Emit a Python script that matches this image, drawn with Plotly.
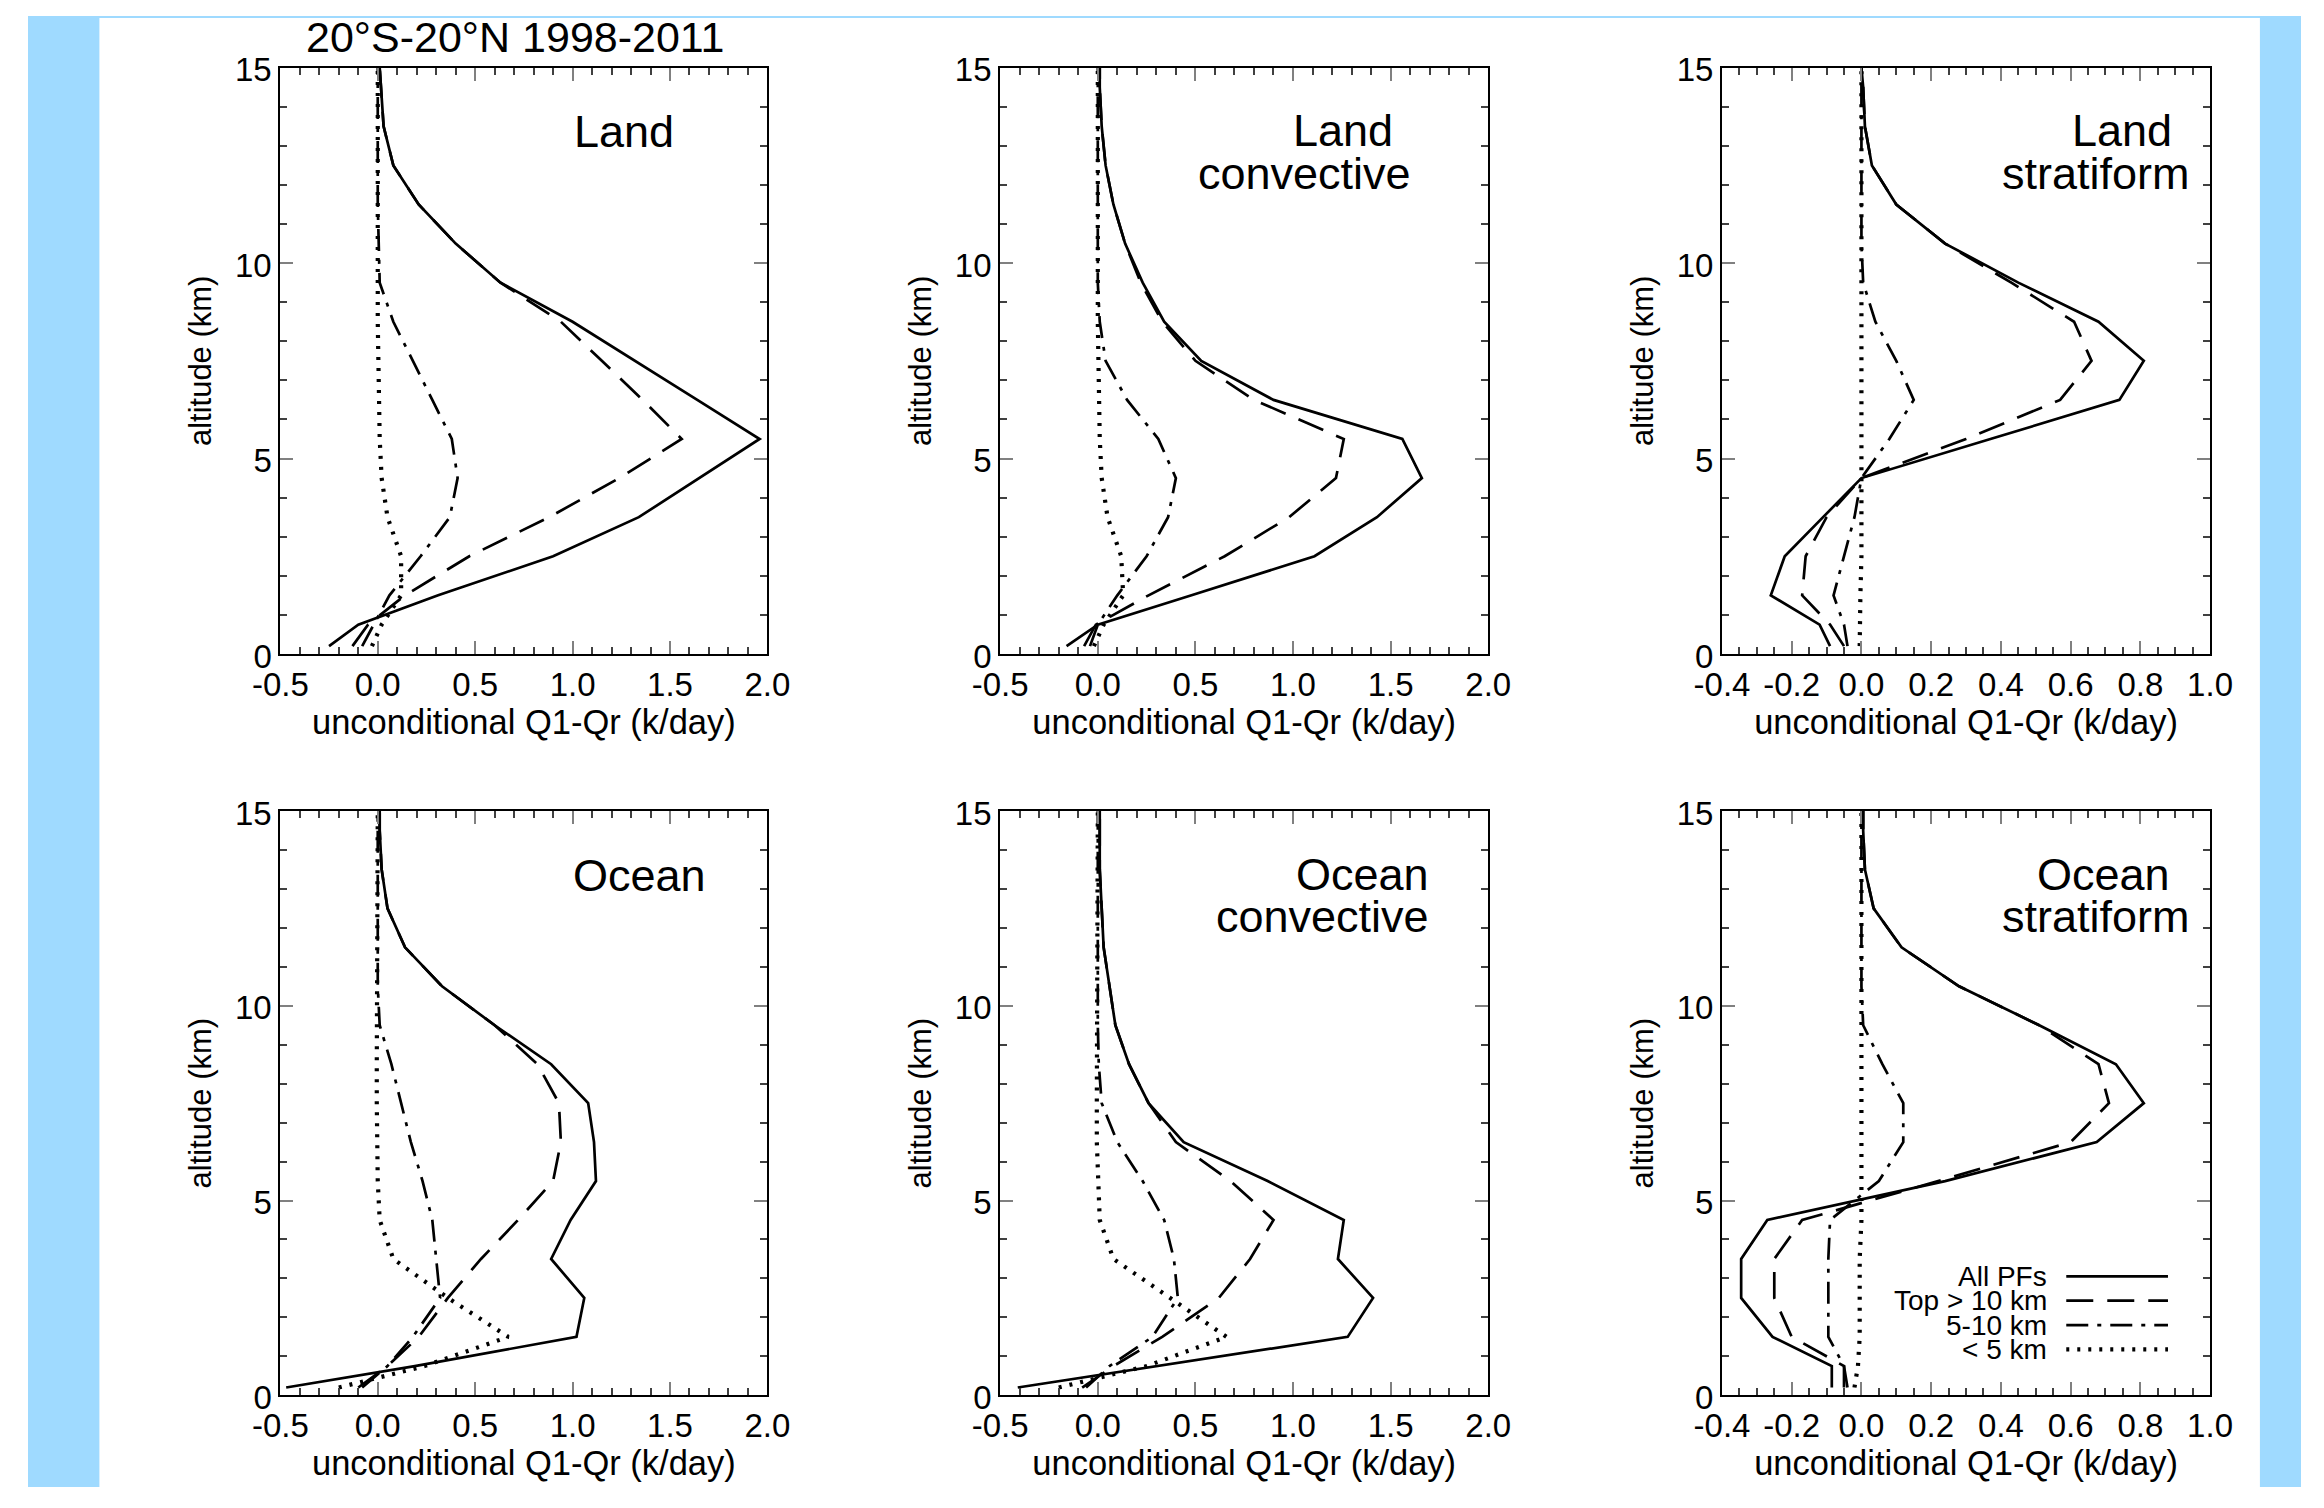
import plotly.graph_objects as go

# ---------------- data ----------------
altitude_km = [0.2, 0.75, 1.5, 2.5, 3.5, 4.5, 5.5, 6.5, 7.5, 8.5, 9.5, 10.5, 11.5, 12.5, 13.5, 14.5, 15.0]

series_names = ["All PFs", "Top > 10 km", "5-10 km", "< 5 km"]

land_all   = [-0.25, -0.10, 0.31, 0.90, 1.34, 1.65, 1.96, 1.64, 1.32, 1.00, 0.63, 0.40, 0.21, 0.08, 0.03, 0.015, 0.01]
land_top10 = [-0.13, -0.05, 0.14, 0.47, 0.88, 1.24, 1.56, 1.36, 1.15, 0.94, 0.63, 0.40, 0.21, 0.08, 0.03, 0.015, 0.01]
land_mid   = [-0.08, -0.02, 0.06, 0.22, 0.37, 0.41, 0.38, 0.28, 0.18, 0.08, 0.01, 0.005, 0, 0, 0, 0, 0]
land_low   = [-0.03, 0.02, 0.12, 0.12, 0.05, 0.02, 0.01, 0.005, 0, 0, 0, 0, 0, 0, 0, 0, 0]

landc_all   = [-0.16, 0.0, 0.48, 1.11, 1.43, 1.66, 1.56, 0.90, 0.53, 0.34, 0.23, 0.14, 0.08, 0.04, 0.02, 0.01, 0.01]
landc_top10 = [-0.07, -0.01, 0.26, 0.65, 0.98, 1.22, 1.26, 0.80, 0.50, 0.33, 0.22, 0.14, 0.08, 0.04, 0.02, 0.01, 0.01]
landc_mid   = [-0.04, 0.0, 0.10, 0.25, 0.36, 0.40, 0.31, 0.15, 0.04, 0.01, 0, 0, 0, 0, 0, 0, 0]
landc_low   = [-0.02, 0.03, 0.13, 0.12, 0.05, 0.02, 0.01, 0.005, 0, 0, 0, 0, 0, 0, 0, 0, 0]

lands_all   = [-0.09, -0.12, -0.26, -0.22, -0.11, 0.0, 0.37, 0.74, 0.81, 0.68, 0.45, 0.24, 0.10, 0.03, 0.01, 0.005, 0.0]
lands_top10 = [-0.05, -0.09, -0.17, -0.16, -0.10, 0.0, 0.30, 0.57, 0.66, 0.61, 0.43, 0.24, 0.10, 0.03, 0.01, 0.005, 0.0]
lands_mid   = [-0.04, -0.05, -0.08, -0.05, -0.02, 0.0, 0.08, 0.15, 0.10, 0.04, 0.005, 0, 0, 0, 0, 0, 0]
lands_low   = [-0.005, -0.005, -0.003, 0, 0, 0, 0, 0, 0, 0, 0, 0, 0, 0, 0, 0, 0]

ocean_all   = [-0.47, 0.19, 1.02, 1.06, 0.89, 0.99, 1.12, 1.11, 1.08, 0.89, 0.60, 0.33, 0.14, 0.05, 0.02, 0.01, 0.01]
ocean_top10 = [-0.10, 0.05, 0.21, 0.36, 0.53, 0.72, 0.90, 0.94, 0.93, 0.82, 0.60, 0.33, 0.14, 0.05, 0.02, 0.01, 0.01]
ocean_mid   = [-0.08, 0.05, 0.18, 0.32, 0.30, 0.28, 0.23, 0.17, 0.12, 0.07, 0.01, 0, 0, 0, 0, 0, 0]
ocean_low   = [-0.20, 0.24, 0.67, 0.36, 0.08, 0.01, 0.0, -0.005, -0.005, -0.005, -0.005, -0.005, 0, 0, 0, 0, 0]

oceanc_all   = [-0.41, 0.30, 1.28, 1.41, 1.23, 1.26, 0.87, 0.44, 0.26, 0.16, 0.09, 0.06, 0.03, 0.02, 0.01, 0.01, 0.01]
oceanc_top10 = [-0.08, 0.08, 0.33, 0.62, 0.78, 0.90, 0.68, 0.40, 0.26, 0.16, 0.09, 0.06, 0.03, 0.02, 0.01, 0.01, 0.01]
oceanc_mid   = [-0.06, 0.06, 0.28, 0.41, 0.39, 0.34, 0.23, 0.10, 0.02, 0.005, 0, 0, 0, 0, 0, 0, 0]
oceanc_low   = [-0.20, 0.25, 0.66, 0.37, 0.08, 0.01, 0.0, -0.005, -0.005, -0.005, -0.005, 0, 0, 0, 0, 0, 0]

oceans_all   = [-0.085, -0.085, -0.255, -0.345, -0.345, -0.27, 0.24, 0.675, 0.81, 0.73, 0.51, 0.28, 0.115, 0.035, 0.01, 0.005, 0.005]
oceans_top10 = [-0.05, -0.05, -0.20, -0.25, -0.25, -0.17, 0.22, 0.60, 0.71, 0.68, 0.51, 0.28, 0.115, 0.035, 0.01, 0.005, 0.005]
oceans_mid   = [-0.04, -0.05, -0.095, -0.095, -0.095, -0.09, 0.05, 0.12, 0.12, 0.06, 0.005, 0, 0, 0, 0, 0, 0]
oceans_low   = [-0.02, -0.01, -0.005, -0.005, -0.005, 0, 0, 0, 0, 0, 0, 0, 0, 0, 0, 0, 0]

# tick labels (hyphen minus as in the reference)
x_ticks_wide = [-0.5, 0.0, 0.5, 1.0, 1.5, 2.0]
x_ticktext_wide = ["-0.5", "0.0", "0.5", "1.0", "1.5", "2.0"]
x_ticks_strat = [-0.4, -0.2, 0.0, 0.2, 0.4, 0.6, 0.8, 1.0]
x_ticktext_strat = ["-0.4", "-0.2", "0.0", "0.2", "0.4", "0.6", "0.8", "1.0"]
y_ticks = [0, 5, 10, 15]
y_ticktext = ["0", "5", "10", "15"]

panel_labels = [["Land"], ["Land", "convective"], ["Land", "stratiform"],
                ["Ocean"], ["Ocean", "convective"], ["Ocean", "stratiform"]]
panel_series = [
    [land_all, land_top10, land_mid, land_low],
    [landc_all, landc_top10, landc_mid, landc_low],
    [lands_all, lands_top10, lands_mid, lands_low],
    [ocean_all, ocean_top10, ocean_mid, ocean_low],
    [oceanc_all, oceanc_top10, oceanc_mid, oceanc_low],
    [oceans_all, oceans_top10, oceans_mid, oceans_low],
]
stratiform_panel = [False, False, True, False, False, True]

main_title = "20°S-20°N 1998-2011"
x_title = "unconditional Q1-Qr (k/day)"
y_title = "altitude (km)"

# ---------------- layout geometry (pixels of a 2324x1508 page) ----------------
W, H = 2324, 1508
FONT = "Liberation Sans, Arial, Helvetica, sans-serif"
BLUE = "#9FDAFF"

col_px = [(258, 756), (994, 1493), (1732, 2231)]
row_px = [(53, 654), (815, 1414)]


def px_x(px):
    return px / W


def px_y(py):
    return 1 - py / H


styles = [
    dict(color="black", width=2.7, dash="solid"),
    dict(color="black", width=2.7, dash="27px,14px"),
    dict(color="black", width=2.7, dash="22px,9px,4px,9px"),
    dict(color="black", width=4.2, dash="3px,8px"),
]

fig = go.Figure()
layout = dict(
    width=W, height=H, autosize=False,
    margin=dict(l=0, r=0, t=0, b=0, pad=0),
    paper_bgcolor="white", plot_bgcolor="white",
    showlegend=False,
    font=dict(family=FONT, color="black", size=33),
)

annotations = []
shapes = []

for i in range(6):
    r, c = divmod(i, 3)
    ax = "" if i == 0 else str(i + 1)
    xa, ya = "x" + ax, "y" + ax
    x0, x1 = col_px[c]
    y0, y1 = row_px[r]
    if stratiform_panel[i]:
        xr, tv, tt, mdt = [-0.4, 1.0], x_ticks_strat, x_ticktext_strat, 0.05
    else:
        xr, tv, tt, mdt = [-0.5, 2.0], x_ticks_wide, x_ticktext_wide, 0.1
    common = dict(
        showline=True, linecolor="black", linewidth=2, mirror="ticks",
        showgrid=False, zeroline=False,
        ticks="inside", ticklen=13, tickwidth=2, tickcolor="#808080",
        tickfont=dict(family=FONT, size=33, color="black"),
    )
    layout["xaxis" + ax] = dict(
        common, domain=[px_x(x0), px_x(x1)], anchor=ya, range=xr,
        tickmode="array", tickvals=tv, ticktext=tt, ticklabelstandoff=0,
        minor=dict(ticks="inside", ticklen=7, tickwidth=1.5, tickcolor="#404040",
                   dtick=mdt, tick0=xr[0], showgrid=False),
        title=dict(text=x_title, font=dict(family=FONT, size=34.5), standoff=1),
    )
    layout["yaxis" + ax] = dict(
        common, domain=[px_y(y1), px_y(y0)], anchor=xa, range=[0, 15],
        tickmode="array", tickvals=y_ticks, ticktext=y_ticktext, ticklabelstandoff=0,
        ticklabelshift=2,
        minor=dict(ticks="inside", ticklen=7, tickwidth=1.5, tickcolor="#404040",
                   dtick=1, tick0=0, showgrid=False),
        title=dict(text=y_title, font=dict(family=FONT, size=31), standoff=14),
    )
    # curves (dotted first, solid last)
    for k in [3, 2, 1, 0]:
        fig.add_trace(go.Scatter(
            x=panel_series[i][k], y=altitude_km, mode="lines",
            name=series_names[k], line=styles[k], xaxis=xa, yaxis=ya,
            hoverinfo="skip",
        ))

# panel labels (pixel centres)
label_pos = [
    [(609, 118)],
    [(1345, 117), (1305, 161)],
    [(2141, 117), (2114, 161)],
    [(625, 881)],
    [(1364, 880), (1324, 923)],
    [(2122, 880), (2114, 923)],
]
for i in range(6):
    for txt, (lx, ly) in zip(panel_labels[i], label_pos[i]):
        annotations.append(dict(
            text=txt, x=px_x(lx), y=px_y(ly), xref="paper", yref="paper",
            xanchor="center", yanchor="middle", showarrow=False,
            font=dict(family=FONT, size=45, color="black"),
        ))

# main title
annotations.append(dict(
    text=main_title, x=px_x(498), y=px_y(22), xref="paper", yref="paper",
    xanchor="center", yanchor="middle", showarrow=False,
    font=dict(family=FONT, size=43, color="black"),
))

# legend inside the lower-right panel: text on the left, line sample on the right
legend_rows = [1292, 1317, 1342, 1367]
for k, ry in enumerate(legend_rows):
    annotations.append(dict(
        text=series_names[k].replace(">", "&gt;").replace("<", "&lt;"),
        x=px_x(2066), y=px_y(ry), xref="paper", yref="paper",
        xanchor="right", yanchor="middle", showarrow=False,
        font=dict(family=FONT, size=28, color="black"),
    ))
    shapes.append(dict(
        type="line", xref="paper", yref="paper",
        x0=px_x(2084), x1=px_x(2188), y0=px_y(ry), y1=px_y(ry),
        line=styles[k],
    ))

# light-blue page border bands
shapes += [
    dict(type="rect", xref="paper", yref="paper", x0=0, x1=px_x(73), y0=0, y1=1,
         fillcolor=BLUE, line=dict(width=0), layer="below"),
    dict(type="rect", xref="paper", yref="paper", x0=px_x(2282), x1=1, y0=0, y1=1,
         fillcolor=BLUE, line=dict(width=0), layer="below"),
    dict(type="rect", xref="paper", yref="paper", x0=0, x1=1, y0=px_y(2), y1=1,
         fillcolor=BLUE, line=dict(width=0), layer="below"),
]

layout["annotations"] = annotations
layout["shapes"] = shapes
fig.update_layout(**layout)

fig.write_html(
    "out.html",
    config={"displayModeBar": False},
    post_script="document.body.style.margin='0';document.body.style.overflow='hidden';",
)
